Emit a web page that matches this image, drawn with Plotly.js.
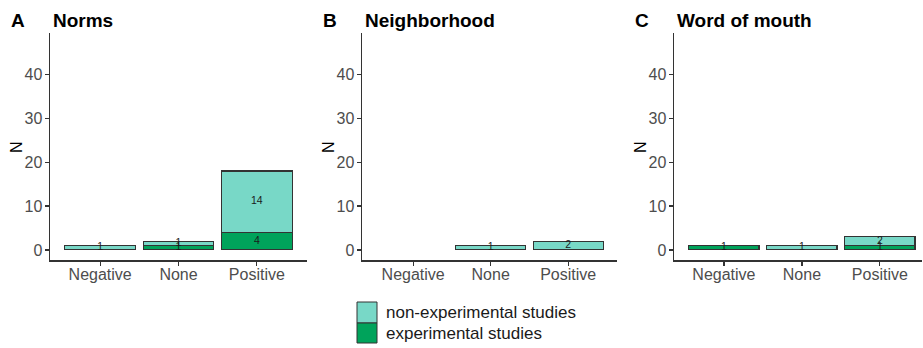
<!DOCTYPE html>
<html>
<head>
<meta charset="utf-8">
<script src="https://cdn.plot.ly/plotly-3.0.1.min.js"></script>
<style>html,body{margin:0;padding:0;background:#fff}#chart{width:923px;height:348px}</style>
</head>
<body>
<div id="chart"></div>
<script>
// ---- data ----
const categories = ['Negative', 'None', 'Positive'];
const panelLetters = ['A', 'B', 'C'];
const panelTitles = ['Norms', 'Neighborhood', 'Word of mouth'];
const seriesNames = ['non-experimental studies', 'experimental studies'];
const normsNonExp = [1, 1, 14];
const normsExp = [0, 1, 4];
const neighNonExp = [0, 1, 2];
const neighExp = [0, 0, 0];
const womNonExp = [0, 1, 2];
const womExp = [1, 0, 1];
const yTicks = [0, 10, 20, 30, 40];

// ---- styling ----
const W = 923, H = 348;
const px = x => x / W;
const py = y => 1 - y / H;
const FONT = 'Liberation Sans, Arial, sans-serif';
const colNon = '#78d8c7';
const colExp = '#00a35b';
const lineCol = '#333333';

const panels = [
  {non: normsNonExp, exp: normsExp, dom: [50, 307], range: [-0.64, 2.64], left: 50},
  {non: neighNonExp, exp: neighExp, dom: [362, 617], range: [-0.66, 2.63], left: 362},
  {non: womNonExp, exp: womExp, dom: [674, 922], range: [-0.64, 2.54], left: 674}
];

const traces = [];
const layout = {
  width: W, height: H,
  margin: {l: 0, r: 0, t: 0, b: 0},
  paper_bgcolor: '#fff', plot_bgcolor: '#fff',
  showlegend: false,
  barmode: 'stack',
  font: {family: FONT},
  annotations: [],
  shapes: []
};

panels.forEach((p, i) => {
  const k = i === 0 ? '' : String(i + 1);
  const xa = 'x' + k, ya = 'y' + k;
  const nz = arr => arr.map(v => (v === 0 ? null : v));
  traces.push({
    type: 'bar', x: categories, y: nz(p.exp), xaxis: xa, yaxis: ya,
    width: 0.9, name: seriesNames[1], hoverinfo: 'skip',
    marker: {color: colExp, line: {color: lineCol, width: 1.1}}
  });
  traces.push({
    type: 'bar', x: categories, y: nz(p.non), xaxis: xa, yaxis: ya,
    width: 0.9, name: seriesNames[0], hoverinfo: 'skip',
    marker: {color: colNon, line: {color: lineCol, width: 1.1}}
  });
  // labels at segment centers
  const tx = [], ty = [], tt = [];
  categories.forEach((c, j) => {
    if (p.exp[j] > 0) { tx.push(c); ty.push(p.exp[j] / 2); tt.push(String(p.exp[j])); }
    if (p.non[j] > 0) { tx.push(c); ty.push(p.exp[j] + p.non[j] / 2); tt.push(String(p.non[j])); }
  });
  traces.push({
    type: 'scatter', mode: 'text', x: tx, y: ty, text: tt, xaxis: xa, yaxis: ya,
    textfont: {family: FONT, size: 10.5, color: '#1a1a1a'}, hoverinfo: 'skip', cliponaxis: false
  });

  layout['xaxis' + k] = {
    domain: [px(p.dom[0]), px(p.dom[1])], anchor: ya,
    type: 'category', categoryorder: 'array', categoryarray: categories,
    range: p.range, fixedrange: true,
    showline: true, linecolor: lineCol, linewidth: 1.5,
    ticks: 'outside', ticklen: 4, tickwidth: 1.2, tickcolor: lineCol,
    ticklabelstandoff: -5,
    tickfont: {family: FONT, size: 16, color: '#4d4d4d'},
    showgrid: false, zeroline: false
  };
  layout['yaxis' + k] = {
    domain: [py(260), py(33)], anchor: xa,
    range: [-2.3, 49.45], fixedrange: true,
    tickmode: 'array', tickvals: yTicks,
    showline: true, linecolor: lineCol, linewidth: 1.5,
    ticks: 'outside', ticklen: 4, tickwidth: 1.2, tickcolor: lineCol,
    ticklabelstandoff: -1,
    tickfont: {family: FONT, size: 16, color: '#4d4d4d'},
    showgrid: false, zeroline: false
  };

  // panel letter and title
  layout.annotations.push({
    xref: 'paper', yref: 'paper', x: px(p.left - 41), y: py(21),
    xanchor: 'left', yanchor: 'middle', showarrow: false,
    text: '<b>' + panelLetters[i] + '</b>', font: {family: FONT, size: 19, color: '#000'}
  });
  layout.annotations.push({
    xref: 'paper', yref: 'paper', x: px(p.left + 0.5), y: py(21),
    xanchor: 'left', yanchor: 'middle', showarrow: false,
    text: '<b>' + panelTitles[i] + '</b>', font: {family: FONT, size: 19, color: '#000'}
  });
  // y axis title
  layout.annotations.push({
    xref: 'paper', yref: 'paper', x: px(p.left - 34), y: py(147),
    xanchor: 'center', yanchor: 'middle', showarrow: false, textangle: -90,
    text: 'N', font: {family: FONT, size: 16, color: '#000'}
  });
});

// legend (drawn manually)
const legendItems = [
  {name: seriesNames[0], color: colNon, y0: 302, y1: 323},
  {name: seriesNames[1], color: colExp, y0: 323, y1: 343}
];
legendItems.forEach(it => {
  layout.shapes.push({
    type: 'rect', xref: 'paper', yref: 'paper',
    x0: px(357), x1: px(377), y0: py(it.y1), y1: py(it.y0),
    fillcolor: it.color, line: {color: lineCol, width: 1}
  });
  layout.annotations.push({
    xref: 'paper', yref: 'paper', x: px(384), y: py((it.y0 + it.y1) / 2),
    xanchor: 'left', yanchor: 'middle', showarrow: false,
    text: it.name, font: {family: FONT, size: 17, color: '#1a1a1a'}
  });
});

Plotly.newPlot('chart', traces, layout, {displayModeBar: false, staticPlot: true});
</script>
</body>
</html>
